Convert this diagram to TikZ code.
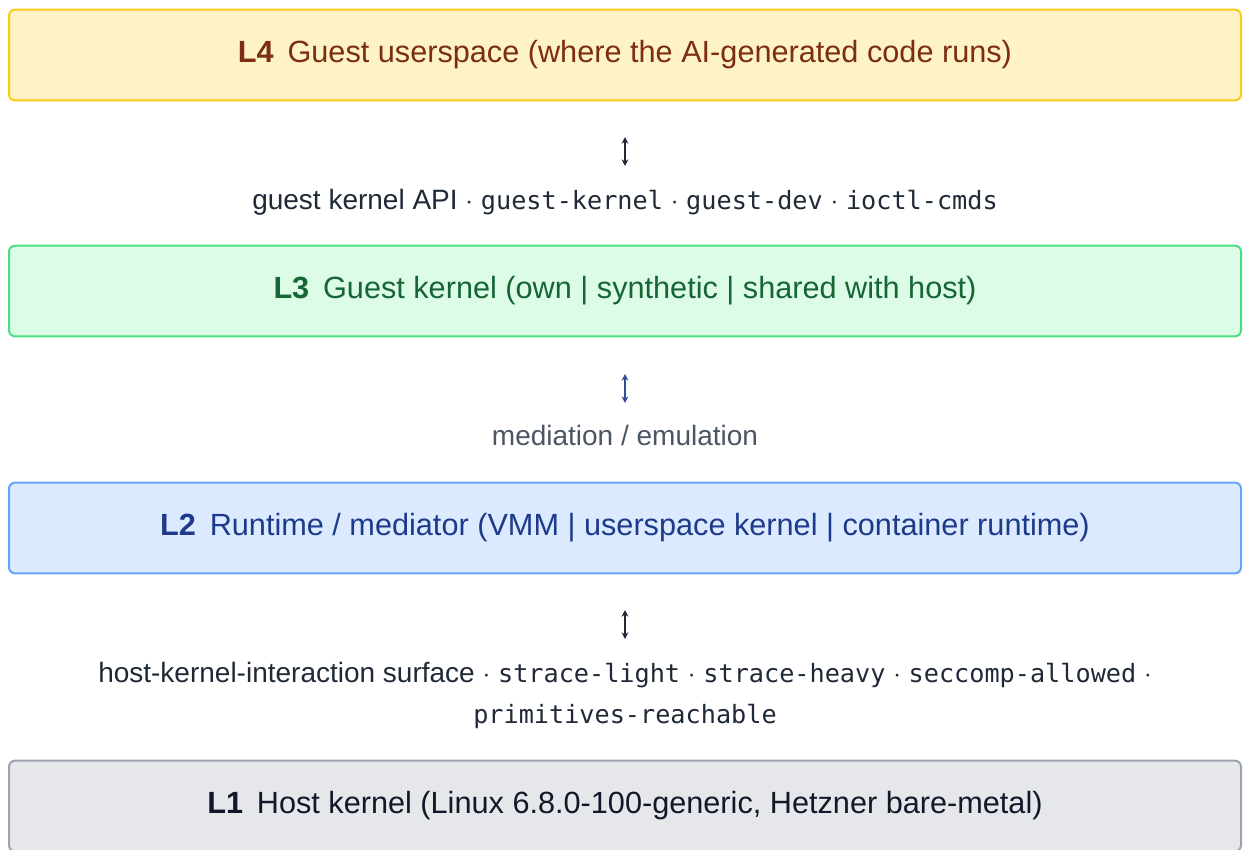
\documentclass[tikz,border=0pt]{standalone}
\usepackage{fontspec}
\setmainfont{Liberation Sans}
\setmonofont{DejaVu Sans Mono}
\usetikzlibrary{arrows.meta}

\definecolor{yfill}{HTML}{FEF3C7}
\definecolor{yline}{HTML}{FACC15}
\definecolor{ytext}{HTML}{7C2D12}
\definecolor{gfill}{HTML}{DCFCE7}
\definecolor{gline}{HTML}{4ADE80}
\definecolor{gtext}{HTML}{166534}
\definecolor{bfill}{HTML}{DBEAFE}
\definecolor{bline}{HTML}{60A5FA}
\definecolor{btext}{HTML}{1E3A8A}
\definecolor{kfill}{HTML}{E5E7EB}
\definecolor{kline}{HTML}{9CA3AF}
\definecolor{ktext}{HTML}{111827}
\definecolor{darkgrey}{HTML}{1F2937}
\definecolor{midgrey}{HTML}{4B5563}
\definecolor{arrowblue}{HTML}{2F4F9A}

\newcommand{\tagL}[1]{\textbf{#1}\hspace{0.45em}}
\newcommand{\sep}{\ $\cdot$\ }
\newcommand{\code}[1]{{\fontsize{18.9}{30.75}\selectfont\ttfamily #1}}

\begin{document}
\begin{tikzpicture}[x=0.75pt, y=-0.75pt,
    layer/.style={draw, line width=1.5pt, rounded corners=4.5pt,
        minimum width=924pt, minimum height=68pt, inner sep=0pt,
        font=\fontsize{23}{28}\selectfont},
    iface/.style={align=center, text=darkgrey,
        font=\fontsize{21}{30.75}\selectfont},
    updown/.style={{Stealth[length=5pt,width=5pt]}-{Stealth[length=5pt,width=5pt]}, line width=0.9pt}]
    \useasboundingbox (0,0) rectangle (1243,850);
    % the four layers
    \node (l4) at (625,55) [layer, draw=yline, fill=yfill, text=ytext] {\tagL{L4}Guest userspace (where the AI-generated code runs)};
    \node (l3) at (625,291) [layer, draw=gline, fill=gfill, text=gtext] {\tagL{L3}Guest kernel (own | synthetic | shared with host)};
    \node (l2) at (625,528) [layer, draw=bline, fill=bfill, text=btext] {\tagL{L2}Runtime / mediator (VMM | userspace kernel | container runtime)};
    \node (l1) at (625,806) [layer, draw=kline, fill=kfill, text=ktext] {\tagL{L1}Host kernel (Linux 6.8.0-100-generic, Hetzner bare-metal)};
    % interfaces between them
    \coordinate (a43) at (625,137);
    \coordinate (b43) at (625,166);
    \draw [updown, color=darkgrey] (a43) -- (b43);
    \node (i43) at (625,202) [iface] {guest kernel API\sep\code{guest-kernel}\sep\code{guest-dev}\sep\code{ioctl-cmds}};
    \coordinate (a32) at (625,374);
    \coordinate (b32) at (625,403);
    \draw [updown, color=arrowblue] (a32) -- (b32);
    \node (i32) at (625,435) [iface, text=midgrey] {mediation / emulation};
    \coordinate (a21) at (625,610);
    \coordinate (b21) at (625,639);
    \draw [updown, color=darkgrey] (a21) -- (b21);
    \node (i21) at (625,695) [iface] {host-kernel-interaction surface\sep\code{strace-light}\sep\code{strace-heavy}\sep\code{seccomp-allowed}\ $\cdot$\\ \code{primitives-reachable}};
\end{tikzpicture}
\end{document}
